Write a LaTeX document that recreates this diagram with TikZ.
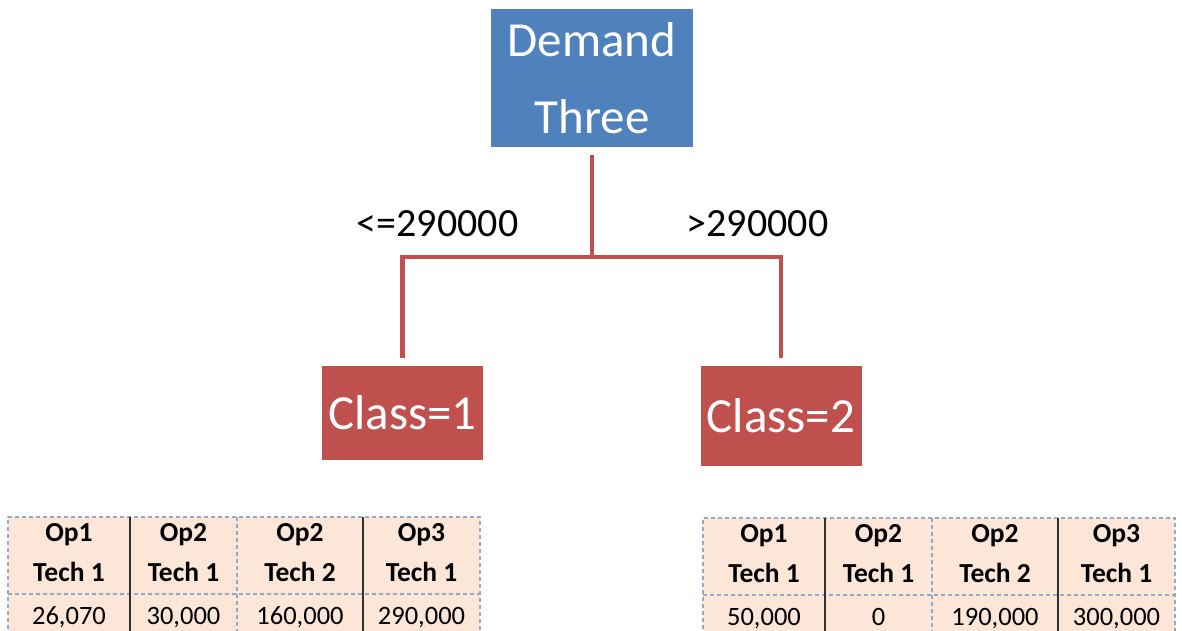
\documentclass[tikz,border=0pt]{standalone}
\usepackage{fontspec}
\setmainfont{Carlito}
\definecolor{rootblue}{HTML}{4F81BD}
\definecolor{leafred}{HTML}{C0504D}
\definecolor{cellfill}{HTML}{FCE6D8}
\definecolor{gridblue}{HTML}{94A9C6}
\definecolor{rulegray}{HTML}{303030}
\tikzset{
  root/.style={fill=rootblue, text=white, minimum width=202pt, minimum height=138pt,
    inner sep=0pt, align=center, font=\fontsize{49}{77}\selectfont},
  leaf/.style={fill=leafred, text=white, minimum width=161pt, inner sep=0pt,
    font=\fontsize{49}{58}\selectfont},
  conn/.style={draw=leafred, line width=4.5pt},
  cond/.style={font=\fontsize{40}{48}\selectfont, inner sep=0pt, anchor=base},
  gridline/.style={draw=gridblue, line width=1.2pt, dash pattern=on 4pt off 3pt},
  colrule/.style={draw=rulegray, line width=2.2pt},
  head/.style={align=center, inner sep=0pt, font=\fontsize{27.5}{40}\selectfont\bfseries},
  val/.style={inner sep=0pt, anchor=base, font=\fontsize{26.5}{30}\selectfont},
}
\begin{document}
\begin{tikzpicture}[x=1pt, y=-1pt]
\useasboundingbox (0,0) rectangle (1182,630);

% decision node and leaves
\node[root] (demand) at (592,78) {Demand\\Three};
\node[leaf, minimum height=94pt] (c1) at (402.5,413) {Class=1};
\node[leaf, minimum height=100pt] (c2) at (781,416) {Class=2};

% branch connectors
\coordinate (split) at (592,257);
\draw[conn, shorten <=8pt] (demand.south) -- (split);
\draw[conn, shorten >=8pt, line join=miter] (split) -| (c1.north);
\draw[conn, shorten >=8pt, line join=miter] (split) -| (c2.north);

\node[cond] (lle) at (437.5,236) {<=290000};
\node[cond] (lgt) at (757.5,236) {>290000};

% left result table
\fill[cellfill] (8,517) rectangle (480,650);
\draw[gridline] (8,650) -- (8,517) -- (480,517) -- (480,650);
\draw[gridline] (8,594) -- (480,594);
\draw[gridline] (237,517) -- (237,650);
\draw[colrule] (130,517) -- (130,650);
\draw[colrule] (363,517) -- (363,650);
\node[head] (lh1) at (69,553) {Op1\\Tech 1};
\node[head] (lh2) at (183.5,553) {Op2\\Tech 1};
\node[head] (lh3) at (300,553) {Op2\\Tech 2};
\node[head] (lh4) at (421.5,553) {Op3\\Tech 1};
\node[val] (lv1) at (69,624) {26,070};
\node[val] (lv2) at (183.5,624) {30,000};
\node[val] (lv3) at (300,624) {160,000};
\node[val] (lv4) at (421.5,624) {290,000};

% right result table
\fill[cellfill] (703,518) rectangle (1175,650);
\draw[gridline] (703,650) -- (703,518) -- (1175,518) -- (1175,650);
\draw[gridline] (703,595) -- (1175,595);
\draw[gridline] (932,518) -- (932,650);
\draw[colrule] (825,518) -- (825,650);
\draw[colrule] (1058,518) -- (1058,650);
\node[head] (rh1) at (764,554) {Op1\\Tech 1};
\node[head] (rh2) at (878.5,554) {Op2\\Tech 1};
\node[head] (rh3) at (995,554) {Op2\\Tech 2};
\node[head] (rh4) at (1116.5,554) {Op3\\Tech 1};
\node[val] (rv1) at (764,625) {50,000};
\node[val] (rv2) at (878.5,625) {0};
\node[val] (rv3) at (995,625) {190,000};
\node[val] (rv4) at (1116.5,625) {300,000};
\end{tikzpicture}
\end{document}
